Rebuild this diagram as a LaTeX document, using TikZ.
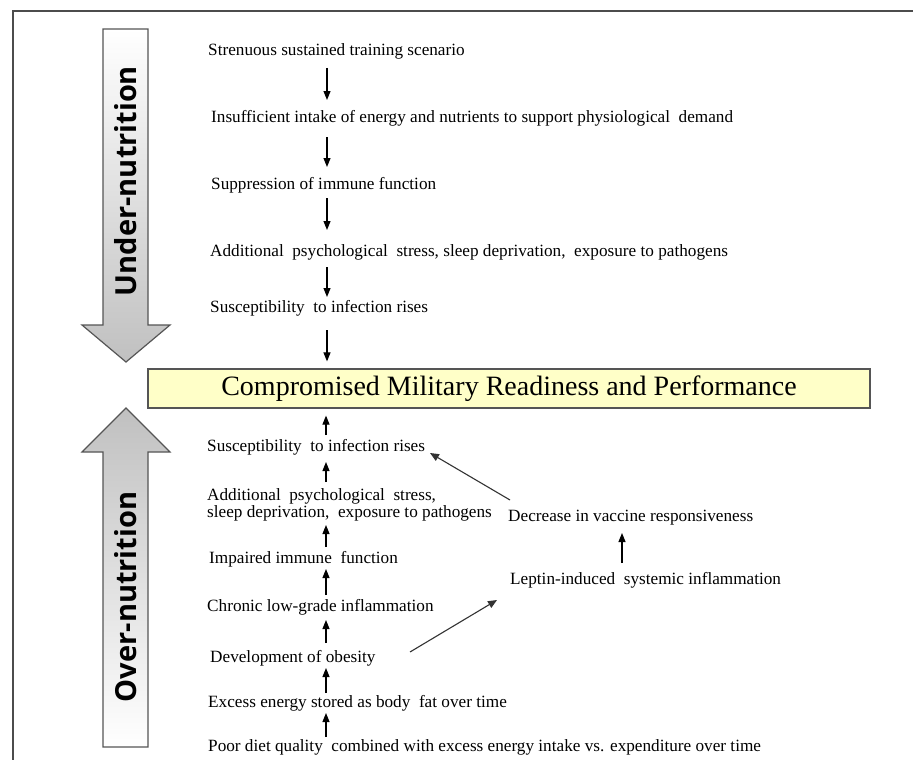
\documentclass[tikz,border=0pt]{standalone}
\usepackage{fontspec}
\setmainfont{Liberation Serif}
\newfontfamily\labelfont{Open Sans}
\usetikzlibrary{arrows.meta,calc}
\definecolor{boxfill}{RGB}{255,255,200}
\definecolor{edgegray}{RGB}{85,85,85}
\definecolor{shadegray}{RGB}{192,192,192}
\begin{document}
\begin{tikzpicture}[x=1pt,y=-1pt,
  txt/.style={anchor=west,inner sep=0pt,font=\fontsize{17.2}{17}\selectfont,text height=11.5pt,text depth=3.5pt},
  arr/.style={line width=1.1pt,-{Triangle[length=9pt,width=7pt]}},
  darr/.style={line width=1.1pt,draw=black!80,-{Triangle[length=9pt,width=7.5pt]}},
  bigarrow/.style={draw=edgegray,line width=1.2pt},
  sidelabel/.style={rotate=90,inner sep=0pt,font=\labelfont\bfseries\fontsize{29}{29}\selectfont}]
\useasboundingbox (0,0) rectangle (913,760);
\fill[white] (0,0) rectangle (913,760);
% frame
\draw[line width=1.6pt,black!70] (13,760) -- (13,11) -- (914,11);
% big arrows
\shade[bigarrow,top color=white,bottom color=shadegray]
  (103,29) -- (148,29) -- (148,325) -- (170,325) -- (126,362) -- (82,325) -- (103,325) -- cycle;
\shade[bigarrow,top color=shadegray,bottom color=white]
  (126,408) -- (170,452) -- (148,452) -- (148,747) -- (103,747) -- (103,452) -- (82,452) -- cycle;
\node[sidelabel] (under) at (126,181) {Under-nutrition};
\node[sidelabel] (over) at (126,597) {Over-nutrition};
% central box
\node[draw=edgegray,line width=1.2pt,fill=boxfill,minimum width=722pt,minimum height=39pt,inner sep=0pt,
  font=\fontsize{28}{28}\selectfont] (box) at (509,388.5) {Compromised Military Readiness and Performance};
% columns
\coordinate (colT) at (327,0);
\coordinate (colB) at (326,0);
% top chain
\node[txt] (t1) at (208,52) {Strenuous sustained training scenario};
\node[txt] (t2) at (211,118) {Insufficient intake of energy and nutrients to support physiological\ \ demand};
\node[txt] (t3) at (211,185) {Suppression of immune function};
\node[txt] (t4) at (210,252) {Additional\ \ psychological\ \ stress, sleep deprivation,\ \ exposure to pathogens};
\node[txt] (t5) at (210,308) {Susceptibility\ \ to infection rises};
\draw[arr] ($(t1 -| colT)+(0,16)$) -- ($(t2 -| colT)+(0,-18)$);
\draw[arr] ($(t2 -| colT)+(0,19)$) -- ($(t3 -| colT)+(0,-18)$);
\draw[arr] ($(t3 -| colT)+(0,13)$) -- ($(t4 -| colT)+(0,-22)$);
\draw[arr] ($(t4 -| colT)+(0,15)$) -- ($(t5 -| colT)+(0,-11)$);
\draw[arr] ($(t5 -| colT)+(0,22)$) -- ($(box.north -| colT)+(0,-7)$);
% bottom chain
\node[txt] (b1) at (207,447) {Susceptibility\ \ to infection rises};
\node[txt,align=left,text height=,text depth=,font=\fontsize{17.2}{17}\selectfont] (b2) at (207,505) {Additional\ \ psychological\ \ stress,\\sleep deprivation,\ \ exposure to pathogens};
\node[txt] (b3) at (209,559) {Impaired immune\ \ function};
\node[txt] (b4) at (207,607) {Chronic low-grade inflammation};
\node[txt] (b5) at (210,658) {Development of obesity};
\node[txt] (b6) at (208,703) {Excess energy stored as body\ \ fat over time};
\node[txt] (b7) at (208,747) {Poor diet quality\ \ combined with excess energy intake vs. expenditure over time};
\draw[arr] ($(b1 -| colB)+(0,-12)$) -- ($(box.south -| colB)+(0,7)$);
\draw[arr] ($(b2 -| colB)+(0,-23)$) -- ($(b1 -| colB)+(0,15)$);
\draw[arr] ($(b3 -| colB)+(0,-12)$) -- ($(b2 -| colB)+(0,20)$);
\draw[arr] ($(b4 -| colB)+(0,-12)$) -- ($(b3 -| colB)+(0,10)$);
\draw[arr] ($(b5 -| colB)+(0,-15)$) -- ($(b4 -| colB)+(0,13)$);
\draw[arr] ($(b6 -| colB)+(0,-10)$) -- ($(b5 -| colB)+(0,10)$);
\draw[arr] ($(b7 -| colB)+(0,-10)$) -- ($(b6 -| colB)+(0,10)$);
% right side
\node[txt] (dec) at (508,517) {Decrease in vaccine responsiveness};
\node[txt] (lep) at (510,580) {Leptin-induced\ \ systemic inflammation};
\coordinate (colR) at (622,0);
\draw[arr] ($(lep -| colR)+(0,-17)$) -- ($(dec -| colR)+(0,16)$);
\draw[darr] ($(b5.west)+(200,-6)$) -- ($(lep.west)+(-13,20)$);
\draw[darr] ($(dec.west)+(2,-17)$) -- ($(b1.west)+(223,6)$);
\end{tikzpicture}
\end{document}
